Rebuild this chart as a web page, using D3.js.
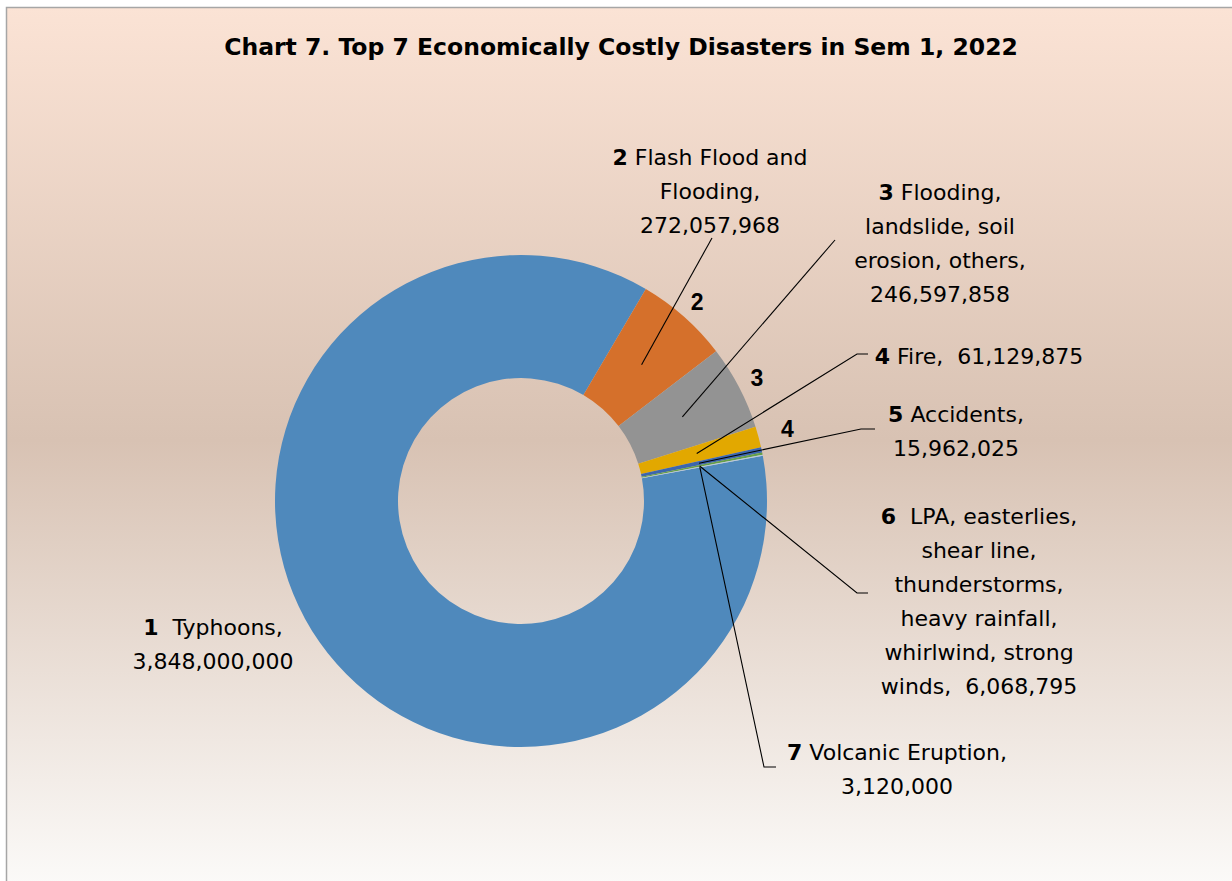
<!DOCTYPE html>
<html>
<head>
<meta charset="utf-8">
<script src="https://cdn.jsdelivr.net/npm/d3@7"></script>
<style>
    body { margin: 0; background: #ffffff; }
    svg { display: block; }
    text { font-family: "DejaVu Sans", sans-serif; fill: #000; white-space: pre; }
</style>
</head>
<body>
<svg id="chart" width="1232" height="881"></svg>
<script>
// data
var ranks = ["1", "2", "3", "4", "5", "6", "7"];
var disasters = ["Typhoons", "Flash Flood and Flooding", "Flooding, landslide, soil erosion, others",
    "Fire", "Accidents", "LPA, easterlies, shear line, thunderstorms, heavy rainfall, whirlwind, strong winds",
    "Volcanic Eruption"];
var costs = [3848000000, 272057968, 246597858, 61129875, 15962025, 6068795, 3120000];
var ringNumbers = ["", "2", "3", "4", "", "", ""];

var colors = ["#4F89BC", "#D5702B", "#939393", "#E2A800", "#3C66AE", "#65A048", "#B5CBE3"];
var titleText = "Chart 7. Top 7 Economically Costly Disasters in Sem 1, 2022";

// word index after which each label breaks onto a new line
var lineBreaks = [[1], [3, 4], [1, 3, 5], [], [1], [2, 4, 5, 7, 9], [2]];
var rankSep = ["  ", " ", " ", " ", " ", "  ", " "];
var valueSep = [" ", " ", " ", "  ", " ", "  ", " "];
// label block centre x, first line centre y
var labelPos = [[213, 627], [710, 157], [940, 192], [979, 356], [956, 414], [979, 516], [897, 752]];
// leader line end points and length of the short horizontal tick
var leaderEnd = [null, [712, 238], [835, 240], [857, 354], [861, 429], [857, 593], [764, 767]];
var tickLen = [0, 0, 0, 11, 14, 11, 12];
var numRadius = [0, 266, 266, 276, 0, 0, 0];

var W = 1232, H = 881;
var cx = 521, cy = 501;
var rOuter = 246, rInner = 123;
var lineH = 34;

var svg = d3.select("#chart");
var defs = svg.append("defs");
var grad = defs.append("linearGradient").attr("id", "bg")
    .attr("x1", 0).attr("y1", 0).attr("x2", 0).attr("y2", 1);
grad.append("stop").attr("offset", "0%").attr("stop-color", "#FBE3D5");
grad.append("stop").attr("offset", "48%").attr("stop-color", "#D8C2B3");
grad.append("stop").attr("offset", "100%").attr("stop-color", "#FDFDFC");

svg.append("rect").attr("x", 6.5).attr("y", 7.5).attr("width", W + 20).attr("height", H + 20)
    .attr("fill", "url(#bg)").attr("stroke", "#A6A6A6").attr("stroke-width", 1.5);

svg.append("text").attr("x", 621).attr("y", 47)
    .attr("text-anchor", "middle").attr("dominant-baseline", "central")
    .style("font-weight", "bold").style("font-size", "23.5px")
    .text(titleText);

var data = costs.map(function (c, i) { return { rank: ranks[i], name: disasters[i], value: c, num: ringNumbers[i] }; });

var startA = 79.4 * Math.PI / 180;
var pie = d3.pie().value(function (d) { return d.value; }).sort(null)
    .startAngle(startA).endAngle(startA + 2 * Math.PI);
var arcs = pie(data);

var arc = d3.arc().innerRadius(rInner).outerRadius(rOuter);
var midArc = d3.arc().innerRadius(rInner + 1).outerRadius(rOuter - 6);

var g = svg.append("g").attr("transform", "translate(" + cx + "," + cy + ")");
g.selectAll("path.slice").data(arcs).enter().append("path")
    .attr("class", "slice")
    .attr("d", arc)
    .attr("fill", function (d, i) { return colors[i]; });

// numbers outside the ring
arcs.forEach(function (d, i) {
    if (!d.data.num) return;
    var p = d3.arc().innerRadius(numRadius[i]).outerRadius(numRadius[i]).centroid(d);
    g.append("text")
        .attr("transform", "translate(" + p + ")")
        .attr("text-anchor", "middle").attr("dominant-baseline", "central")
        .style("font-family", "'Liberation Sans Narrow', 'Liberation Sans', sans-serif")
        .style("font-weight", "bold").style("font-size", "23px")
        .text(d.data.num);
});

// leader lines
var fmt = d3.format(",");
arcs.forEach(function (d, i) {
    if (!leaderEnd[i]) return;
    var c = midArc.centroid(d);
    var p0 = [cx + c[0], cy + c[1]];
    var e = leaderEnd[i];
    var pts = [p0, e];
    if (tickLen[i]) pts.push([e[0] + tickLen[i], e[1]]);
    svg.append("path").attr("d", d3.line()(pts))
        .attr("fill", "none").attr("stroke", "#000").attr("stroke-width", 1.1);
});

// labels
arcs.forEach(function (d, i) {
    var words = (d.data.name + ",").split(" ");
    words.push(fmt(d.data.value));
    var lines = [], cur = [];
    words.forEach(function (w, k) {
        cur.push(w);
        if (lineBreaks[i].indexOf(k + 1) >= 0 || k === words.length - 1) {
            var sep = (k === words.length - 1) ? valueSep[i] : " ";
            var ln = cur.slice(0, -1).join(" ");
            ln = cur.length > 1 ? ln + sep + cur[cur.length - 1] : cur[0];
            lines.push(ln);
            cur = [];
        }
    });
    var t = svg.append("text")
        .attr("text-anchor", "middle").attr("dominant-baseline", "central")
        .style("font-size", "22px");
    lines.forEach(function (ln, k) {
        var ts = t.append("tspan").attr("x", labelPos[i][0]).attr("y", labelPos[i][1] + k * lineH);
        if (k === 0) {
            ts.append("tspan").style("font-weight", "bold").text(d.data.rank);
            ts.append("tspan").text(rankSep[i] + ln);
        } else {
            ts.text(ln);
        }
    });
});
</script>
</body>
</html>
